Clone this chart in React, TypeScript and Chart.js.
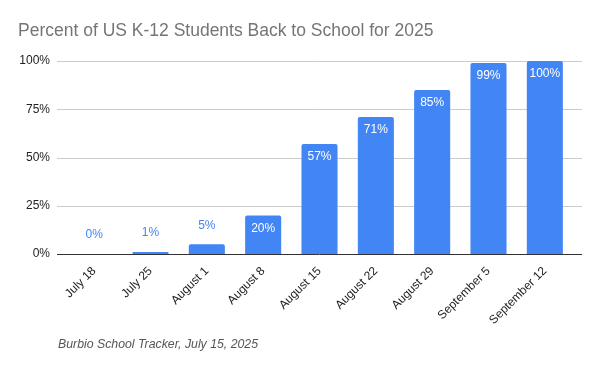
import React, { useEffect, useRef } from "react";
import { Chart, registerables } from "chart.js";

Chart.register(...registerables);

const titleText = "Percent of US K-12 Students Back to School for 2025";
const footerText = "Burbio School Tracker, July 15, 2025";
const categories = [
  "July 18",
  "July 25",
  "August 1",
  "August 8",
  "August 15",
  "August 22",
  "August 29",
  "September 5",
  "September 12",
];
const values = [0, 1, 5, 20, 57, 71, 85, 99, 100];
const yTickValues = [0, 25, 50, 75, 100];

const BLUE = "#4285F4";
const FONT = "'Liberation Sans', Arial, sans-serif";

export default function App() {
  const ref = useRef<HTMLCanvasElement | null>(null);

  useEffect(() => {
    if (!ref.current) return;

    const gridPlugin = {
      id: "extGrid",
      beforeDatasetsDraw(chart: any) {
        const { ctx, chartArea } = chart;
        const y = chart.scales.y;
        ctx.save();
        ctx.lineWidth = 1;
        yTickValues.forEach((v) => {
          if (v === 0) return;
          const py = Math.round(y.getPixelForValue(v)) + 0.5;
          ctx.strokeStyle = "#cccccc";
          ctx.beginPath();
          ctx.moveTo(chartArea.left - 9, py);
          ctx.lineTo(chartArea.right + 9, py);
          ctx.stroke();
        });
        ctx.restore();
      },
      afterDatasetsDraw(chart: any) {
        const { ctx, chartArea } = chart;
        const y = chart.scales.y;
        ctx.save();
        const py = Math.round(y.getPixelForValue(0)) + 0.5;
        ctx.strokeStyle = "#333333";
        ctx.lineWidth = 1;
        ctx.beginPath();
        ctx.moveTo(chartArea.left - 9, py);
        ctx.lineTo(chartArea.right + 9, py);
        ctx.stroke();

        // data labels
        const meta = chart.getDatasetMeta(0);
        ctx.font = `12px ${FONT}`;
        ctx.textAlign = "center";
        ctx.textBaseline = "middle";
        meta.data.forEach((el: any, i: number) => {
          const v = values[i];
          const label = v + "%";
          if (v >= 10) {
            ctx.fillStyle = "#ffffff";
            ctx.fillText(label, el.x, el.y + 13);
          } else {
            ctx.fillStyle = BLUE;
            ctx.fillText(label, el.x, el.y - 19);
          }
        });
        ctx.restore();
      },
      afterDraw(chart: any) {
        const { ctx } = chart;
        ctx.save();
        ctx.textAlign = "left";
        ctx.textBaseline = "middle";
        ctx.fillStyle = "#757575";
        ctx.font = `17.5px ${FONT}`;
        ctx.fillText(titleText, 18, 31);
        ctx.fillStyle = "#555555";
        ctx.font = `italic 12.3px ${FONT}`;
        ctx.fillText(footerText, 58, 345);
        ctx.restore();
      },
    };

    const chart = new Chart(ref.current, {
      type: "bar",
      data: {
        labels: categories,
        datasets: [
          {
            data: values,
            backgroundColor: BLUE,
            borderRadius: 2,
            barPercentage: 0.64,
            categoryPercentage: 1,
          },
        ],
      },
      options: {
        responsive: false,
        animation: false,
        devicePixelRatio: 1,
        layout: { padding: { top: 61, right: 27, left: 0, bottom: 0 } },
        plugins: {
          legend: { display: false },
          title: { display: false },
          tooltip: { enabled: false },
        },
        scales: {
          x: {
            type: "category",
            offset: true,
            grid: { display: false },
            border: { display: false },
            ticks: {
              minRotation: 45,
              maxRotation: 45,
              color: "#222222",
              font: { size: 12, family: FONT },
              padding: 2,
            },
            afterFit: (s: any) => {
              s.height = 117;
            },
          },
          y: {
            min: 0,
            max: 100,
            grid: { display: false, drawTicks: false },
            border: { display: false },
            afterBuildTicks: (s: any) => {
              s.ticks = yTickValues.map((v) => ({ value: v }));
            },
            ticks: {
              padding: 16,
              color: "#222222",
              font: { size: 12, family: FONT },
              callback: (v: any) => v + "%",
            },
            afterFit: (s: any) => {
              s.width = 66;
            },
          },
        },
      },
      plugins: [gridPlugin],
    });

    return () => chart.destroy();
  }, []);

  return (
    <div style={{ position: "fixed", left: 0, top: 0, width: 600, height: 371, background: "#fff" }}>
      <canvas ref={ref} width={600} height={371} />
    </div>
  );
}
